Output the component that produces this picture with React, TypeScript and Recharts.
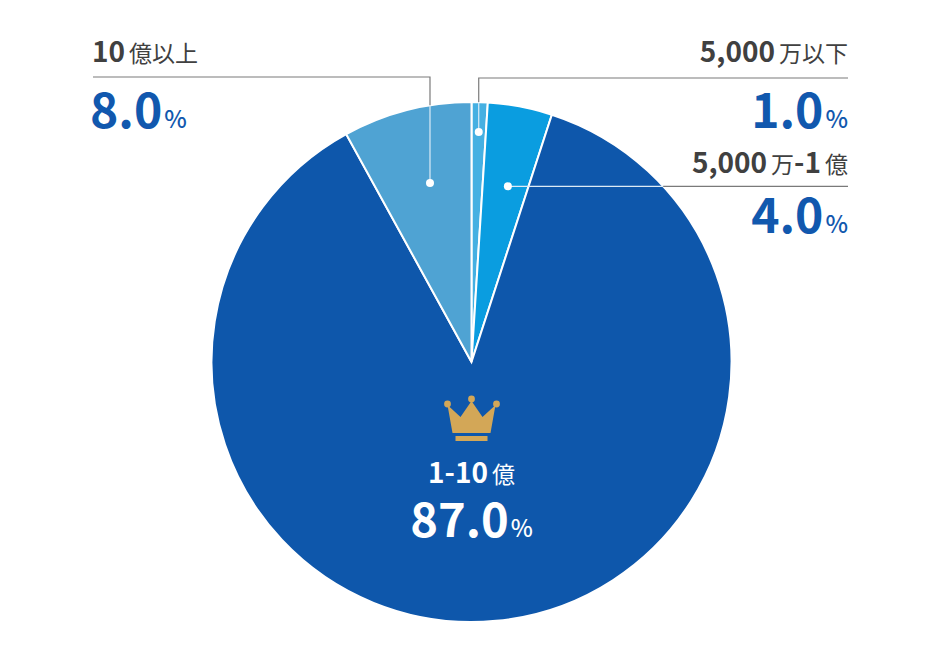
// @ts-nocheck
import React from 'react'
import { PieChart, Pie, Cell } from 'recharts'

const categories = ['5,000万以下', '5,000万-1億', '1-10億', '10億以上']
const shares = [1.0, 4.0, 87.0, 8.0]
const colors = ['#45b0e2', '#0a9de0', '#0e57ab', '#4fa3d3']

const data = categories.map((name, i) => ({ name, value: shares[i] }))

const FONT = '"Noto Sans CJK JP", "Noto Sans", sans-serif'
const GRAY = '#404040'
const BLUE = '#1158ae'
const LINE = '#7a7a7a'
const RAD = Math.PI / 180

// how each callout sits: dot radius (fraction of R), small angle nudge, text block
const callouts = [
  { dot: 0.885, shift: 0, kind: 'topRight' },
  { dot: 0.69, shift: -0.9, kind: 'midRight' },
  { dot: 0, shift: 0, kind: 'center' },
  { dot: 0.707, shift: -1.35, kind: 'topLeft' },
]

function splitName(name: string) {
  // bold the digits, regular for the kanji
  const parts = []
  const re = /([0-9,\-]+)|([^0-9,\-]+)/g
  let m
  while ((m = re.exec(name))) parts.push({ text: m[0], bold: !!m[1] })
  return parts
}

function NameText({ x, y, name, anchor, fill }) {
  return (
    <text x={x} y={y} textAnchor={anchor} fill={fill} fontFamily={FONT}>
      {splitName(name).map((p, i) => (
        <tspan key={i} fontSize={p.bold ? 28 : 23} fontWeight={p.bold ? 700 : 400}
          dx={i > 0 && !p.text.startsWith('-') ? 4 : 0}>{p.text}</tspan>
      ))}
    </text>
  )
}

function PctText({ x, y, value, anchor, fill, size = 48 }) {
  return (
    <text x={x} y={y} textAnchor={anchor} fill={fill} fontFamily={FONT}>
      <tspan fontSize={size} fontWeight={700}>{value.toFixed(1)}</tspan>
      <tspan fontSize={size * 0.5} fontWeight={500} dx={2}>%</tspan>
    </text>
  )
}

function Crown({ x, y }) {
  const gold = '#d3a757'
  return (
    <g fill={gold}>
      <polygon points={`${x - 24},${y - 14} ${x - 11},${y - 2} ${x},${y - 18} ${x + 11},${y - 2} ${x + 24},${y - 14} ${x + 19},${y + 14} ${x - 19},${y + 14}`} />
      <circle cx={x - 24} cy={y - 15} r={3.4} />
      <circle cx={x} cy={y - 20} r={3.4} />
      <circle cx={x + 25} cy={y - 15} r={3.4} />
      <rect x={x - 16} y={y + 17} width={32} height={5} />
    </g>
  )
}

function renderLabel(props) {
  const { cx, cy, midAngle, outerRadius, index } = props
  const c = callouts[index]
  const name = categories[index]
  const value = shares[index]
  const a = (midAngle + c.shift) * RAD
  const dx = cx + outerRadius * c.dot * Math.cos(-a)
  const dy = cy + outerRadius * c.dot * Math.sin(-a)
  const R = outerRadius

  if (c.kind === 'center') {
    return (
      <g key="center">
        <Crown x={cx} y={cy + 57} />
        <NameText x={cx} y={cy + 121} name={name} anchor="middle" fill="#fff" />
        <PctText x={cx} y={cy + 175} value={value} anchor="middle" fill="#fff" size={47} />
      </g>
    )
  }

  if (c.kind === 'topLeft') {
    const lineY = 77
    const edgeY = cy - Math.sqrt(R * R - (dx - cx) * (dx - cx))
    return (
      <g key="tl">
        <polyline points={`93,${lineY} ${dx},${lineY} ${dx},${edgeY}`} fill="none" stroke={LINE} strokeWidth={1.2} />
        <line x1={dx} y1={edgeY} x2={dx} y2={dy} stroke="#dcebf6" strokeWidth={1.2} />
        <circle cx={dx} cy={dy} r={4} fill="#fff" />
        <NameText x={92} y={62} name={name} anchor="start" fill={GRAY} />
        <PctText x={90} y={128} value={value} anchor="start" fill={BLUE} />
      </g>
    )
  }

  if (c.kind === 'topRight') {
    const lineY = 78
    const edgeY = cy - Math.sqrt(R * R - (dx - cx) * (dx - cx))
    return (
      <g key="tr">
        <polyline points={`848,${lineY} ${dx},${lineY} ${dx},${edgeY}`} fill="none" stroke={LINE} strokeWidth={1.2} />
        <line x1={dx} y1={edgeY} x2={dx} y2={dy} stroke="#dcebf6" strokeWidth={1.2} />
        <circle cx={dx} cy={dy} r={4} fill="#fff" />
        <NameText x={848} y={62} name={name} anchor="end" fill={GRAY} />
        <PctText x={848} y={128} value={value} anchor="end" fill={BLUE} />
      </g>
    )
  }

  // midRight: dot then a horizontal leader to the right
  const edgeX = cx + Math.sqrt(R * R - (dy - cy) * (dy - cy))
  return (
    <g key="mr">
      <line x1={dx} y1={dy} x2={edgeX} y2={dy} stroke="#dcebf6" strokeWidth={1.2} />
      <line x1={edgeX} y1={dy} x2={848} y2={dy} stroke={LINE} strokeWidth={1.2} />
      <circle cx={dx} cy={dy} r={4} fill="#fff" />
      <NameText x={848} y={173} name={name} anchor="end" fill={GRAY} />
      <PctText x={848} y={233} value={value} anchor="end" fill={BLUE} />
    </g>
  )
}

export default function App() {
  return (
    <div style={{ position: 'absolute', left: 0, top: 0, width: 944, height: 660, background: '#fff' }}>
      <PieChart width={944} height={660} margin={{ top: 0, right: 0, bottom: 0, left: 0 }}>
        <Pie
          data={data}
          dataKey="value"
          nameKey="name"
          cx={471.5}
          cy={362}
          outerRadius={260}
          startAngle={90}
          endAngle={-270}
          stroke="#fff"
          strokeWidth={2}
          label={renderLabel}
          labelLine={false}
          isAnimationActive={false}
        >
          {data.map((d, i) => <Cell key={d.name} fill={colors[i]} />)}
        </Pie>
      </PieChart>
    </div>
  )
}
